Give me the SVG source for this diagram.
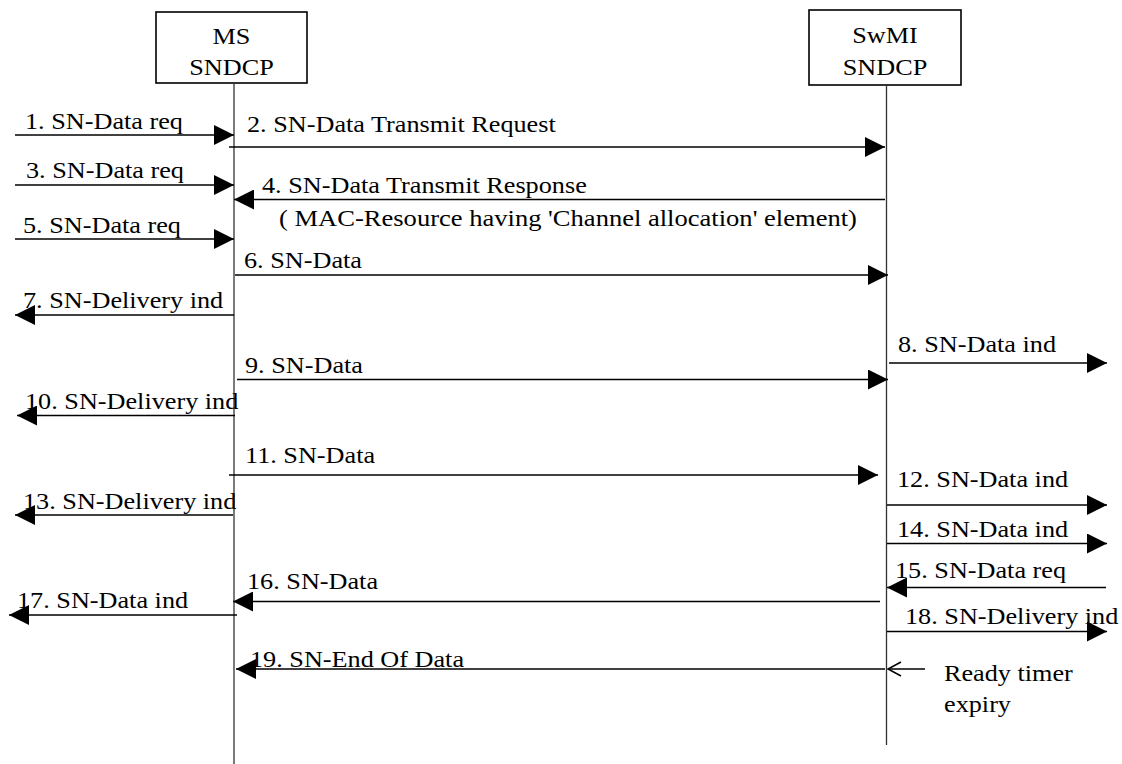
<svg xmlns="http://www.w3.org/2000/svg" width="1122" height="764" viewBox="0 0 1122 764">
<defs>
<style>
text{font-family:"Liberation Serif","Times New Roman",serif;font-size:23px;fill:#000}
.box{fill:#fff;stroke:#000;stroke-width:1.6}
.life{stroke:#333;stroke-width:1.3;fill:none}
.msg{stroke:#000;stroke-width:1.7;fill:none;marker-end:url(#ah)}
.mid{text-anchor:middle}
</style>
<marker id="ah" markerUnits="userSpaceOnUse" markerWidth="20" markerHeight="20" refX="20" refY="10" orient="auto">
<path d="M0,0 L20,10 L0,20 z" fill="#000"/>
</marker>
</defs>
<rect width="1122" height="764" fill="#fff"/>

<g id="node-ms">
<rect class="box" x="156" y="12" width="151" height="71"/>
<text class="mid" transform="translate(231.5,44) scale(1.14 1)">MS</text>
<text class="mid" transform="translate(231.5,75) scale(1.14 1)">SNDCP</text>
</g>
<g id="node-swmi">
<rect class="box" x="809" y="10" width="152" height="75"/>
<text class="mid" transform="translate(885,43) scale(1.14 1)">SwMI</text>
<text class="mid" transform="translate(885,75) scale(1.14 1)">SNDCP</text>
</g>

<g id="connectors">
<line class="life" x1="234" y1="83" x2="234" y2="764"/>
<line class="life" x1="886.5" y1="85" x2="886.5" y2="745"/>

<line class="msg" x1="15" y1="135" x2="234" y2="135"/>
<line class="msg" x1="229" y1="147" x2="885" y2="147"/>
<line class="msg" x1="15" y1="185" x2="234" y2="185"/>
<line class="msg" x1="885" y1="199.5" x2="234" y2="199.5"/>
<line class="msg" x1="15" y1="239" x2="234" y2="239"/>
<line class="msg" x1="235" y1="275" x2="888" y2="275"/>
<line class="msg" x1="234" y1="315" x2="15" y2="315"/>
<line class="msg" x1="889" y1="363" x2="1107" y2="363"/>
<line class="msg" x1="237" y1="379.5" x2="888" y2="379.5"/>
<line class="msg" x1="235" y1="415.5" x2="17" y2="415.5"/>
<line class="msg" x1="229" y1="475" x2="878" y2="475"/>
<line class="msg" x1="887" y1="505" x2="1107" y2="505"/>
<line class="msg" x1="233" y1="515" x2="15" y2="515"/>
<line class="msg" x1="887" y1="543.5" x2="1107" y2="543.5"/>
<line class="msg" x1="1106" y1="587.5" x2="887" y2="587.5"/>
<line class="msg" x1="880" y1="601.5" x2="233" y2="601.5"/>
<line class="msg" x1="237" y1="615" x2="9" y2="615"/>
<line class="msg" x1="887" y1="631.5" x2="1107" y2="631.5"/>
<line class="msg" x1="885" y1="669" x2="236" y2="669"/>
<line x1="888" y1="669" x2="925" y2="669" stroke="#000" stroke-width="1.5"/>
<polyline points="901,662 888,669 901,676" fill="none" stroke="#000" stroke-width="1.5"/>

<text transform="translate(25,129) scale(1.14 1)">1. SN-Data req</text>
<text transform="translate(247,131.5) scale(1.14 1)">2. SN-Data Transmit Request</text>
<text transform="translate(26,178) scale(1.14 1)">3. SN-Data req</text>
<text transform="translate(262,193) scale(1.14 1)">4. SN-Data Transmit Response</text>
<text transform="translate(279,226) scale(1.155 1)">( MAC-Resource having 'Channel allocation' element)</text>
<text transform="translate(23,233) scale(1.14 1)">5. SN-Data req</text>
<text transform="translate(244,268) scale(1.14 1)">6. SN-Data</text>
<text transform="translate(23,308) scale(1.14 1)">7. SN-Delivery ind</text>
<text transform="translate(898,352) scale(1.14 1)">8. SN-Data ind</text>
<text transform="translate(245,373) scale(1.14 1)">9. SN-Data</text>
<text transform="translate(25,409) scale(1.14 1)">10. SN-Delivery ind</text>
<text transform="translate(245,463) scale(1.14 1)">11. SN-Data</text>
<text transform="translate(897,487) scale(1.14 1)">12. SN-Data ind</text>
<text transform="translate(23,509) scale(1.14 1)">13. SN-Delivery ind</text>
<text transform="translate(897,537) scale(1.14 1)">14. SN-Data ind</text>
<text transform="translate(895,578) scale(1.14 1)">15. SN-Data req</text>
<text transform="translate(247,589) scale(1.14 1)">16. SN-Data</text>
<text transform="translate(17,608) scale(1.14 1)">17. SN-Data ind</text>
<text transform="translate(905,623.5) scale(1.14 1)">18. SN-Delivery ind</text>
<text transform="translate(250,667) scale(1.14 1)">19. SN-End Of Data</text>
<text transform="translate(944,681) scale(1.14 1)">Ready timer</text>
<text transform="translate(944,712) scale(1.14 1)">expiry</text>
</g>
</svg>
